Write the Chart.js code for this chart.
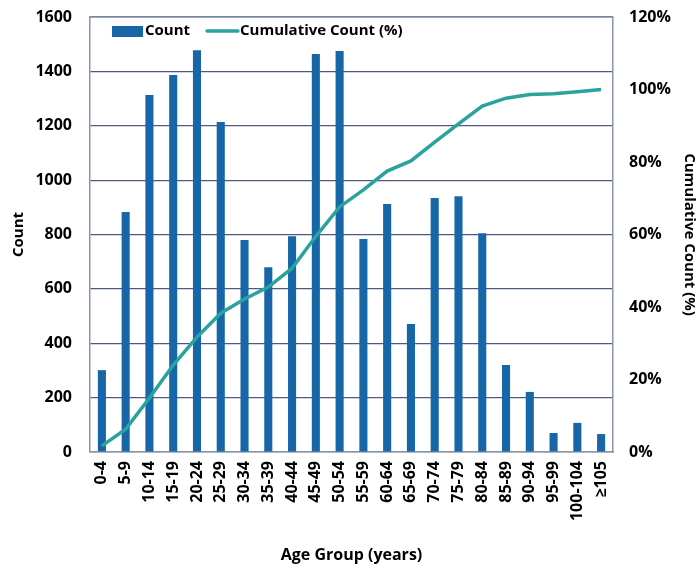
<!DOCTYPE html>
<html>
<head>
<meta charset="utf-8">
<script src="https://cdn.jsdelivr.net/npm/chart.js@4.4.1/dist/chart.umd.min.js"></script>
<style>
  html, body { margin: 0; padding: 0; background: #fff; }
  #wrap { width: 698px; height: 569px; }
</style>
</head>
<body>
<div id="wrap"><canvas id="age_chart"></canvas></div>
<script>
const ageGroups = ['0-4','5-9','10-14','15-19','20-24','25-29','30-34','35-39','40-44','45-49','50-54',
                   '55-59','60-64','65-69','70-74','75-79','80-84','85-89','90-94','95-99','100-104','\u2265105'];
const counts = [301, 883, 1313, 1387, 1478, 1214, 780, 680, 794, 1464, 1475,
                783, 912, 471, 934, 941, 805, 320, 221, 70, 107, 66];
const cumulativePct = [1.7, 6.3, 14.9, 24.0, 31.7, 38.3, 42.2, 45.5, 50.7, 59.5, 67.6,
                       72.3, 77.5, 80.3, 85.5, 90.5, 95.4, 97.6, 98.6, 98.8, 99.4, 100];
const countTicks = [0, 200, 400, 600, 800, 1000, 1200, 1400, 1600];
const pctTicks = [0, 20, 40, 60, 80, 100, 120];

const FONT = '"Open Sans", sans-serif';
const barColor = '#1767a8';
const lineColor = '#2aa39f';

// legend drawn inside the plot area, top left
const insideLegend = {
    id: 'insideLegend',
    afterDraw(chart) {
        const ctx = chart.ctx;
        const y = 31;
        ctx.save();
        ctx.font = 'bold 15px ' + FONT;
        ctx.textBaseline = 'middle';
        ctx.fillStyle = barColor;
        ctx.fillRect(112, y - 5, 31, 11);
        ctx.fillStyle = '#000';
        ctx.fillText(chart.data.datasets[1].label, 145, y);
        ctx.strokeStyle = lineColor;
        ctx.lineWidth = 3.5;
        ctx.lineCap = 'round';
        ctx.beginPath();
        ctx.moveTo(207, y);
        ctx.lineTo(238, y);
        ctx.stroke();
        ctx.fillText(chart.data.datasets[0].label, 240, y);
        ctx.restore();
    }
};

function noVPad(scale) {
    scale.paddingTop = 0;
    scale.paddingBottom = 0;
}

new Chart(document.getElementById('age_chart'), {
    data: {
        labels: ageGroups,
        datasets: [{
            type: 'line',
            label: 'Cumulative Count (%)',
            data: cumulativePct,
            yAxisID: 'yPct',
            borderColor: lineColor,
            borderWidth: 3.5,
            pointRadius: 0,
            tension: 0,
            order: 0
        }, {
            type: 'bar',
            label: 'Count',
            data: counts,
            yAxisID: 'y',
            backgroundColor: barColor,
            barPercentage: 0.34,
            categoryPercentage: 1,
            order: 1
        }]
    },
    options: {
        responsive: true,
        maintainAspectRatio: false,
        animation: false,
        layout: { padding: { top: 17, left: 10, right: 0, bottom: 0 } },
        plugins: {
            legend: { display: false },
            tooltip: { enabled: false }
        },
        scales: {
            x: {
                grid: { display: false, drawTicks: false },
                border: { color: '#8a94aa', width: 1.5 },
                ticks: {
                    color: '#000', font: { family: FONT, size: 16, weight: 'bold' },
                    minRotation: 90, maxRotation: 90, autoSkip: false, padding: 9
                },
                title: {
                    display: true, text: 'Age Group (years)', color: '#000',
                    font: { family: FONT, size: 16, weight: 'bold' }, padding: { top: 0, bottom: 4 }
                },
                afterFit(scale) { scale.height = 117; }
            },
            y: {
                position: 'left',
                min: 0, max: 1600,
                afterBuildTicks(scale) { scale.ticks = countTicks.map(v => ({ value: v })); },
                grid: { color: '#4d5a80', lineWidth: 1.2, drawTicks: false },
                border: { color: '#8a94aa', width: 1.5 },
                ticks: {
                    color: '#000', font: { family: FONT, size: 16, weight: 'bold' }, padding: 18,
                    callback: v => String(v)
                },
                title: {
                    display: true, text: 'Count', color: '#000',
                    font: { family: FONT, size: 15, weight: 'bold' }, padding: { top: 0, bottom: 0 }
                },
                afterFit(scale) { scale.width = 80; noVPad(scale); }
            },
            yPct: {
                position: 'right',
                min: 0, max: 120,
                afterBuildTicks(scale) { scale.ticks = pctTicks.map(v => ({ value: v })); },
                grid: { display: false, drawTicks: false },
                border: { color: '#8a94aa', width: 1.5 },
                ticks: {
                    color: '#000', font: { family: FONT, size: 16, weight: 'bold' }, padding: 16,
                    callback: v => v + '%'
                },
                title: {
                    display: true, text: 'Cumulative Count (%)', color: '#000',
                    font: { family: FONT, size: 15, weight: 'bold' }, padding: { top: 0, bottom: 2 }
                },
                afterFit(scale) { scale.width = 85; noVPad(scale); }
            }
        }
    },
    plugins: [insideLegend, {
        id: 'topBorder',
        afterDatasetsDraw(chart) {
            const a = chart.chartArea, ctx = chart.ctx;
            ctx.save();
            ctx.strokeStyle = '#8a94aa';
            ctx.lineWidth = 1.5;
            ctx.beginPath();
            ctx.moveTo(a.left, a.top);
            ctx.lineTo(a.right, a.top);
            ctx.stroke();
            ctx.restore();
        }
    }]
});
</script>
</body>
</html>
